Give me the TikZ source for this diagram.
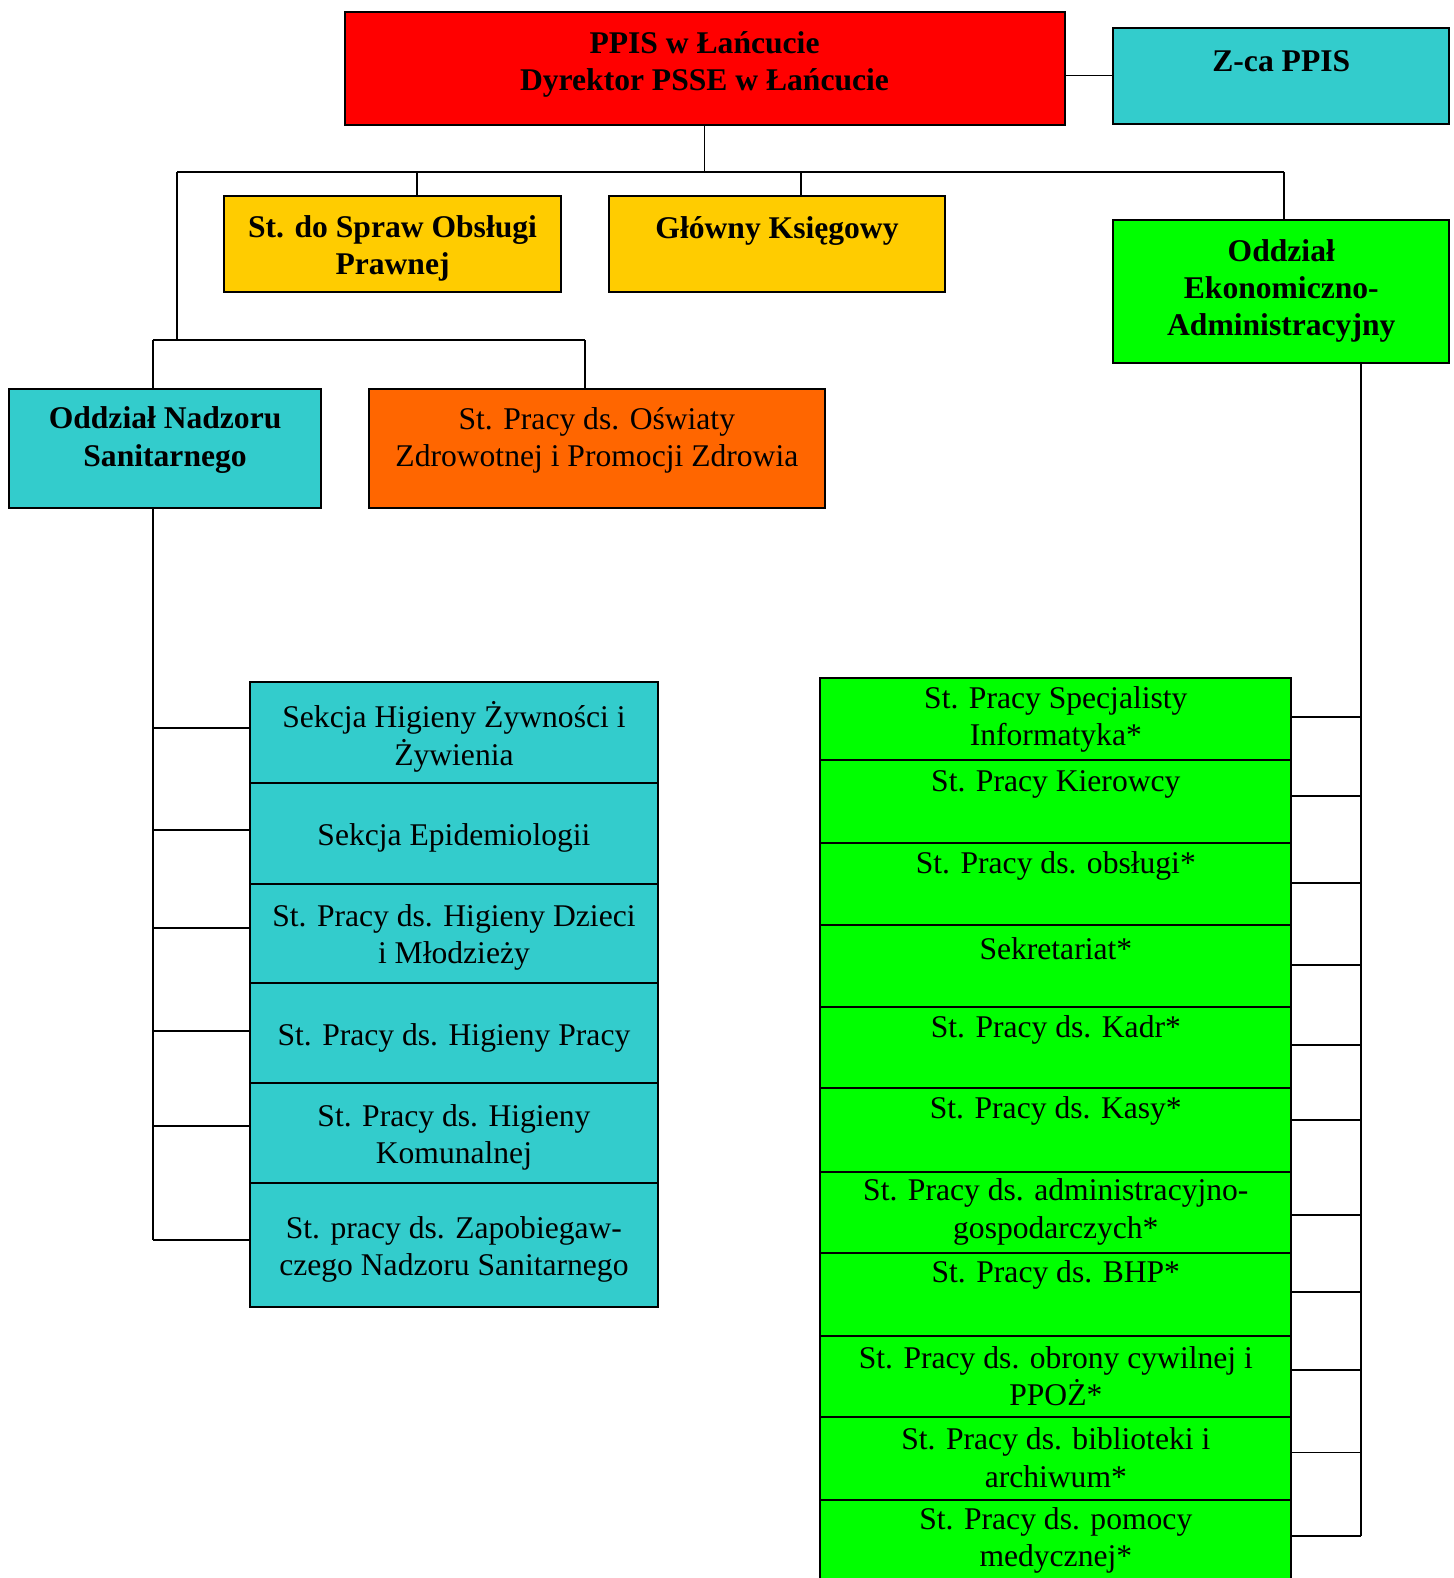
\documentclass[tikz,border=0pt]{standalone}
\usepackage{fontspec}
\setmainfont{Liberation Serif}
\definecolor{cRed}{HTML}{FF0000}
\definecolor{cCyan}{HTML}{33CCCC}
\definecolor{cYellow}{HTML}{FFCC00}
\definecolor{cOrange}{HTML}{FF6600}
\definecolor{cGreen}{HTML}{00FF00}
\begin{document}
\begin{tikzpicture}[x=0.50325pt,y=-0.50325pt,
  box/.style={draw=black,line width=1pt,rectangle},
  txt/.style={align=center,inner sep=0pt,yshift=-1.6pt,font=\fontsize{15.8}{18.6}\selectfont},
  btxt/.style={txt,font=\fontsize{15.8}{18.6}\selectfont\bfseries},
  conn/.style={draw=black,line width=0.9pt}]
\useasboundingbox (0,0) rectangle (1444.6,1567.8);
\fill[white] (0,0) rectangle (1444.6,1567.8);
% top level
\draw[box,fill=cRed] (343,12) rectangle (1058,124);
\node[btxt] (ppis) at (700,61) {PPIS w Łańcucie\\Dyrektor PSSE w Łańcucie};
\draw[box,fill=cCyan] (1106,28) rectangle (1440,123);
\node[btxt] (zca) at (1273,58) {Z-ca PPIS};
\coordinate (ppisR) at (1058,75);
\coordinate (zcaL) at (1106,75);
\draw[conn] (ppisR) -- (zcaL);
% second level
\draw[box,fill=cYellow] (223,195) rectangle (557,290);
\node[btxt] (prawna) at (390,244) {St. do Spraw Obsługi\\Prawnej};
\draw[box,fill=cYellow] (605,195) rectangle (939,290);
\node[btxt] (ksieg) at (772,226) {Główny Księgowy};
\draw[box,fill=cGreen] (1106,219) rectangle (1440,361);
\node[btxt] (ekon) at (1273,286) {Oddział\\Ekonomiczno-\\Administracyjny};
\coordinate (ppisB) at (700,124);
\coordinate (busY) at (700,171);
\coordinate (busL) at (176,171);
\coordinate (busR) at (1276,171);
\draw[conn] (ppisB) -- (busY);
\draw[conn] (busL) -- (busR);
\coordinate (prawnaT) at (414,195);
\coordinate (ksiegT) at (796,195);
\coordinate (ekonT) at (1276,219);
\draw[conn] (414,171) -- (prawnaT);
\draw[conn] (796,171) -- (ksiegT);
\draw[conn] (busR) -- (ekonT);
% third level
\coordinate (bus2T) at (176,338);
\draw[conn] (busL) -- (bus2T);
\draw[conn] (152,338) -- (581,338);
\draw[box,fill=cCyan] (9,386) rectangle (319,505);
\node[btxt] (nadzor) at (164,434) {Oddział Nadzoru\\Sanitarnego};
\draw[box,fill=cOrange] (367,386) rectangle (820,505);
\node[txt] (oswiata) at (593,434) {St. Pracy ds. Oświaty\\Zdrowotnej i Promocji Zdrowia};
\draw[conn] (152,338) -- (152,386);
\draw[conn] (581,338) -- (581,386);
% left stack
\draw[conn] (152,505) -- (152,1232);
\foreach \ya/\yb/\yc in {678/778/723, 778/878/825, 878/977/922, 977/1076/1024, 1076/1175/1119, 1175/1299/1232}{
  \draw[box,fill=cCyan] (248,\ya) rectangle (654,\yb);
  \draw[conn] (152,\yc) -- (248,\yc);
}
\node[txt] (l1) at (451,729) {Sekcja Higieny Żywności i\\Żywienia};
\node[txt] (l2) at (451,829) {Sekcja Epidemiologii};
\node[txt] (l3) at (451,928) {St. Pracy ds. Higieny Dzieci\\i Młodzieży};
\node[txt] (l4) at (451,1028) {St. Pracy ds. Higieny Pracy};
\node[txt] (l5) at (451,1127) {St. Pracy ds. Higieny\\Komunalnej};
\node[txt] (l6) at (451,1238) {St. pracy ds. Zapobiegaw-\\czego Nadzoru Sanitarnego};
% right stack
\draw[conn] (1352,361) -- (1352,1526);
\foreach \ya/\yb/\yc in {674/755/712, 755/838/791, 838/919/877, 919/1000/959, 1000/1081/1038, 1081/1164/1113, 1164/1245/1207, 1245/1327/1284, 1327/1408/1361, 1408/1490/1443}{
  \draw[box,fill=cGreen] (815,\ya) rectangle (1283,\yb);
  \draw[conn] (1283,\yc) -- (1352,\yc);
}
\fill[cGreen] (815,1490) rectangle (1283,1567.8);
\draw[box] (815,1567.8) -- (815,1490) -- (1283,1490) -- (1283,1567.8);
\draw[conn] (1283,1526) -- (1352,1526);
\node[txt] (r1) at (1049,712) {St. Pracy Specjalisty\\Informatyka*};
\node[txt] (r2) at (1049,776) {St. Pracy Kierowcy};
\node[txt] (r3) at (1049,857) {St. Pracy ds. obsługi*};
\node[txt] (r4) at (1049,939) {Sekretariat*};
\node[txt] (r5) at (1049,1020) {St. Pracy ds. Kadr*};
\node[txt] (r6) at (1049,1101) {St. Pracy ds. Kasy*};
\node[txt] (r7) at (1049,1201) {St. Pracy ds. administracyjno-\\gospodarczych*};
\node[txt] (r8) at (1049,1264) {St. Pracy ds. BHP*};
\node[txt] (r9) at (1049,1364) {St. Pracy ds. obrony cywilnej i\\PPOŻ*};
\node[txt] (r10) at (1049,1445) {St. Pracy ds. biblioteki i\\archiwum*};
\node[txt] (r11) at (1049,1527) {St. Pracy ds. pomocy\\medycznej*};
\end{tikzpicture}
\end{document}
